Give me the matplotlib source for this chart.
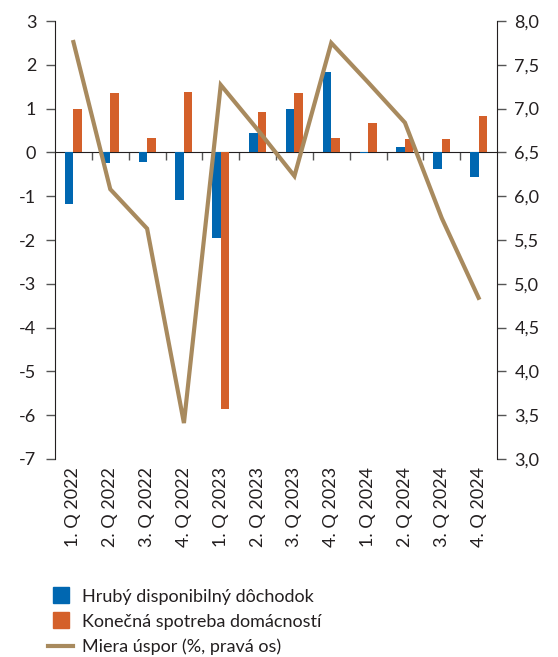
import matplotlib
matplotlib.use("Agg")
import matplotlib.pyplot as plt
from matplotlib.lines import Line2D
import numpy as np

plt.rcParams['font.family'] = ['Lato', 'DejaVu Sans']

kvartaly = ["1. Q 2022", "2. Q 2022", "3. Q 2022", "4. Q 2022",
            "1. Q 2023", "2. Q 2023", "3. Q 2023", "4. Q 2023",
            "1. Q 2024", "2. Q 2024", "3. Q 2024", "4. Q 2024"]
dochodok = [-1.18, -0.25, -0.21, -1.09, -1.96, 0.44, 1.00, 1.84, -0.02, 0.12, -0.39, -0.57]
spotreba = [0.98, 1.35, 0.34, 1.38, -5.86, 0.92, 1.35, 0.33, 0.67, 0.31, 0.31, 0.82]
miera_uspor = [7.76, 6.08, 5.63, 3.41, 7.27, 6.76, 6.23, 7.75, 7.30, 6.84, 5.75, 4.84]

modra = "#0067B1"
oranzova = "#D4602A"
hneda = "#A88A5E"
text_c = "#231F20"
fs = 13

fig = plt.figure(figsize=(5.58, 6.57), dpi=100)
ax = fig.add_axes([0.0986, 0.3014, 0.7921, 0.6666])

x = np.arange(len(kvartaly))
w = 0.23
ax.bar(x - w / 2, dochodok, width=w, color=modra, zorder=2)
ax.bar(x + w / 2, spotreba, width=w, color=oranzova, zorder=2)

ax.set_xlim(-0.5, len(kvartaly) - 0.5)
ax.set_ylim(-7, 3)
ax.set_yticks(range(-7, 4))
ax.set_yticklabels([str(v) for v in range(-7, 4)])

for s in ["top", "right", "bottom"]:
    ax.spines[s].set_visible(False)
ax.spines["left"].set_color(text_c)
ax.tick_params(axis="y", direction="out", length=6.5, width=1, color="#555555",
               labelsize=fs, labelcolor=text_c, pad=7)
ax.set_xticks(x)
ax.set_xticklabels(kvartaly, rotation=90)
ax.tick_params(axis="x", length=0, labelsize=fs, labelcolor=text_c, pad=6)

# nulova os s ciarkami medzi kvartalmi
nula = (0 - (-7)) / (3 - (-7))
sec = ax.secondary_xaxis(nula)
sec.set_xticks(np.arange(0.5, len(kvartaly) - 0.5, 1))
sec.tick_params(axis="x", direction="out", length=6, width=1, color="#555555",
                labelbottom=False, labeltop=False)
sec.spines["bottom"].set_visible(True)
sec.spines["bottom"].set_color(text_c)
sec.spines["top"].set_visible(False)
sec.xaxis.set_ticks_position("bottom")
sec.set_xticklabels([])

ax2 = ax.twinx()
ax2.plot(x, miera_uspor, color=hneda, linewidth=3, solid_joinstyle="miter", zorder=3)
ax2.set_ylim(3, 8)
ticks_r = np.arange(3.0, 8.01, 0.5)
ax2.set_yticks(ticks_r)
ax2.set_yticklabels([f"{v:.1f}".replace(".", ",") for v in ticks_r])
for s in ["top", "left", "bottom"]:
    ax2.spines[s].set_visible(False)
ax2.spines["right"].set_color(text_c)
ax2.tick_params(axis="y", direction="out", length=6.5, width=1, color="#555555",
                labelsize=fs, labelcolor=text_c, pad=6)

handles = [
    Line2D([], [], marker="s", markersize=11, linestyle="none", color=modra),
    Line2D([], [], marker="s", markersize=11, linestyle="none", color=oranzova),
    Line2D([], [], color=hneda, linewidth=3),
]
labels = ["Hrubý disponibilný dôchodok", "Konečná spotreba domácností",
          "Miera úspor (%, pravá os)"]
leg = fig.legend(handles, labels, loc="upper left", bbox_to_anchor=(0.086, 0.104),
                 frameon=False, fontsize=fs, handlelength=1.4, handletextpad=0.5,
                 labelspacing=0.5, borderpad=0, borderaxespad=0)
for t in leg.get_texts():
    t.set_color(text_c)

fig.savefig("out.png", dpi=100)
